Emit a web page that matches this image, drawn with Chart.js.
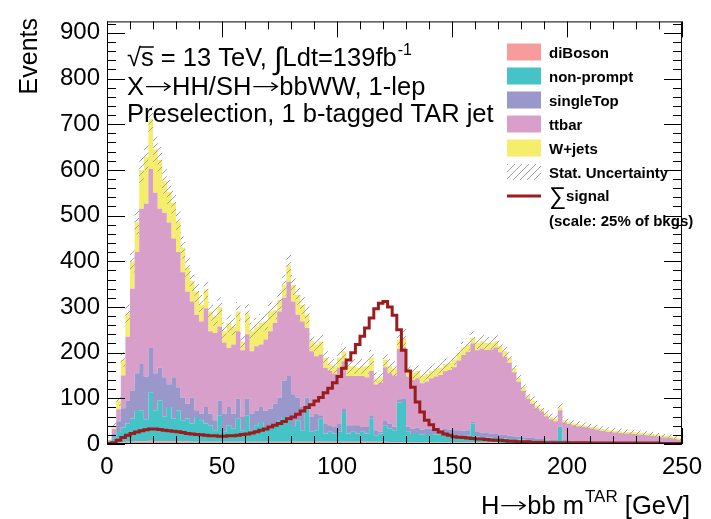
<!DOCTYPE html>
<html>
<head>
<meta charset="utf-8">
<script src="https://cdn.jsdelivr.net/npm/chart.js@4.4.0/dist/chart.umd.min.js"></script>
<style>
  html, body { margin: 0; padding: 0; background: #fff; }
</style>
</head>
<body>
<canvas id="histChart" width="711" height="519"></canvas>
<script>
// 2 GeV bins from 0 to 250 GeV, H->bb m^TAR
const binWidth = 2;

const diBoson = [1,2,3,4,5,5,6,6,6,7, 6,6,6,6,6,6,6,6,5,5, 5,5,5,5,5,5,5,5,5,5, 5,5,5,5,5,5,5,5,5,5,
  5,5,5,5,5,5,5,5,5,5, 5,5,5,5,5,5,5,5,5,5, 5,4,4,4,4,4,4,4,4,4, 4,4,4,4,4,4,4,4,4,4,
  4,4,4,4,4,2,2,2,2,2, 2,2,2,2,2,2,2,2,2,2, 2,2,2,2,2,2,2,2,2,2, 2,2,2,2,2,2,2,2,2,2,
  2,2,2,2,2];
const nonPrompt = [2,10,23,32,40,51,66,68,48,106, 68,89,54,75,50,68,46,50,40,54, 47,40,36,25,58,22,36,29,50,25,
  58,25,36,43,32,29,39,47,54,47, 32,47,25,72,22,25,50,18,22,18, 22,65,18,22,18,22,18,50,14,18,
  35,30,26,87,88,24,18,20,16,18, 18,17,16,17,16,14,14,13,14,41, 12,11,10,10,9,11,10,9,9,8,
  8,7,6,6,5,5,4,4,35,3, 3,2,2,2,2,2,2,2,2,2, 2,2,2,2,2,2,2,2,2,2, 2,2,2,2,2];
const singleTop = [3,10,24,42,50,61,83,101,94,97, 81,72,86,50,90,50,50,32,57,15, 14,36,25,22,32,39,40,32,44,29,
  36,36,32,33,36,43,44,50,80,97, 72,50,51,25,32,36,8,21,14,14, 17,8,18,14,18,10,14,8,11,4,
  12,11,8,7,8,10,12,12,12,12, 12,12,12,12,12,12,12,12,12,3, 10,10,10,9,9,8,8,7,6,6,
  5,5,5,4,4,3,4,3,1,4, 3,2,2,2,2,2,2,2,2,2, 2,2,2,2,2,2,2,2,2,2, 2,2,2,2,2];
const ttbar = [2,11,26,72,140,223,265,340,378,392, 395,348,360,354,304,296,274,245,210,209, 202,216,181,191,162,156,129,152,148,146,
  141,137,141,137,156,170,177,188,181,206, 203,181,187,152,144,126,133,123,119,116, 123,103,108,108,108,112,109,97,100,107,
  116,110,112,110,112,110,106,108,101,103, 110,115,119,126,130,138,153,166,172,172, 179,184,182,184,189,180,171,160,140,120,
  101,85,75,66,60,51,44,41,36,38, 36,35,33,31,30,28,26,23,21,20, 19,18,17,17,16,15,14,13,12,11,
  9,8,7,5,3];
const wjets = [2,7,19,35,50,60,65,85,102,110, 95,107,69,67,78,67,54,53,45,50, 37,41,43,36,43,25,55,39,43,20,
  46,44,43,47,39,43,28,25,28,36, 36,43,36,29,22,26,29,22,14,17, 22,22,21,21,18,21,24,29,12,12,
  17,15,15,20,20,16,16,16,16,16, 16,16,16,16,16,17,17,16,16,12, 16,16,15,14,14,13,12,11,10,9,
  8,7,7,6,6,5,5,5,6,5, 4,4,4,4,4,4,4,4,4,4, 4,4,4,4,4,4,4,4,4,4, 4,4,4,4,4];
// stat. uncertainty on total background (events)
const statUnc = [4,8,12,16,20,24,26,28,28,30, 28,28,27,26,26,25,24,23,22,22, 21,22,20,
  20,21,19,20,19,21,18,20,19,19,19,19,20,20,21,23,25,22,21,20,19,
  17,17,17,16,16,16,16,17,16,16,16,16,16,17,15,15,17,16,16, 19,19,
  12,12,12,12,12,12,12,12,12,12,12,12,13,13,14,13,13,13,13,13,12,12,12,11,11,10,
  11,10,10,9,9,8,8,10,8,7,
  7,7,7,7,6,6,6,6,6,6,6,5,5,5,5,5,5,5,5,4,4,4,4,4];
// sum of signal, scaled to 25% of bkgs
const signal = [1,3,8,14,19,23,26,29,31,33, 33,32,30,29,28,27,25,23,22,21, 20,19,18,18,17,17,18,18,19,21,
  22,24,27,30,33,37,41,45,49,55, 59,65,72,80,86,94,102,112,122,134, 148,166,184,200,218,236,254,276,296,308,
  312,300,282,250,205,160,124,92,70,52, 42,32,26,22,19,16,15,14,13,12, 11,11,10,9,8,8,7,6,6,5,
  5,5,4,4,4,3,3,3,3,3, 3,3,3,3,3,2,2,2,2,2, 2,2,2,2,2,2,2,2,2,2, 1,1,1,1,1];

const xTicks = [0, 50, 100, 150, 200, 250];
const yTicks = [0, 100, 200, 300, 400, 500, 600, 700, 800, 900];

const FONT = "'Liberation Sans', Arial, Helvetica, sans-serif";
const colors = {
  diBoson: '#f79c9c',
  nonPrompt: '#45c3c7',
  singleTop: '#9a98ca',
  ttbar: '#d79fca',
  wjets: '#f4ee6c',
  signal: '#9c1b1d'
};

const nBins = diBoson.length;
const total = diBoson.map((v, i) => v + nonPrompt[i] + singleTop[i] + ttbar[i] + wjets[i]);
const uncLo = total.map((v, i) => v - statUnc[i]);
const uncHi = total.map((v, i) => v + statUnc[i]);

function stepData(vals) {
  const d = vals.map((v, i) => ({ x: i * binWidth, y: v }));
  d.push({ x: nBins * binWidth, y: vals[nBins - 1] });
  return d;
}

// hatch for stat. uncertainty
const hatchCanvas = document.createElement('canvas');
hatchCanvas.width = 7; hatchCanvas.height = 7;
const hc = hatchCanvas.getContext('2d');
hc.strokeStyle = '#a3a3a3';
hc.lineWidth = 1;
hc.beginPath();
hc.moveTo(0, 7); hc.lineTo(7, 0);
hc.moveTo(-1, 1); hc.lineTo(1, -1);
hc.moveTo(6, 8); hc.lineTo(8, 6);
hc.stroke();
const canvas = document.getElementById('histChart');
const hatch = canvas.getContext('2d').createPattern(hatchCanvas, 'repeat');

function bkg(label, vals, color, fill) {
  return {
    label, data: stepData(vals), stepped: 'before',
    backgroundColor: color, borderColor: 'rgba(0,0,0,0)', borderWidth: 0,
    pointRadius: 0, fill, order: 0
  };
}

const datasets = [
  bkg('diBoson', diBoson, colors.diBoson, 'origin'),
  bkg('non-prompt', nonPrompt, colors.nonPrompt, 0),
  bkg('singleTop', singleTop, colors.singleTop, 1),
  bkg('ttbar', ttbar, colors.ttbar, 2),
  bkg('W+jets', wjets, colors.wjets, 3),
  { label: 'uncLo', data: stepData(uncLo), stepped: 'before', stack: 'lo', fill: false,
    borderColor: 'rgba(0,0,0,0)', borderWidth: 0, pointRadius: 0, order: -1 },
  { label: 'Stat. Uncertainty', data: stepData(uncHi), stepped: 'before', stack: 'hi', fill: 5,
    backgroundColor: hatch, borderColor: 'rgba(0,0,0,0)', borderWidth: 0, pointRadius: 0, order: -1 },
  { label: 'signal', data: stepData(signal), stepped: 'before', stack: 'sig', fill: false,
    borderColor: colors.signal, borderWidth: 3, pointRadius: 0, order: -2 }
];

// text with "->" drawn as a thin ROOT-like arrow; returns end x
function arrowText(ctx, parts, x, y, size, arrowLen) {
  ctx.font = size + 'px ' + FONT;
  let cx = x;
  parts.forEach((p, i) => {
    ctx.fillText(p, cx, y);
    cx += ctx.measureText(p).width;
    if (i < parts.length - 1) {
      const ay = y - size * 0.33;
      ctx.save();
      ctx.strokeStyle = '#000';
      ctx.lineWidth = 1.3;
      ctx.beginPath();
      ctx.moveTo(cx + 2, ay); ctx.lineTo(cx + arrowLen - 2, ay);
      ctx.moveTo(cx + arrowLen - 8, ay - 4); ctx.lineTo(cx + arrowLen - 2, ay); ctx.lineTo(cx + arrowLen - 8, ay + 4);
      ctx.stroke();
      ctx.restore();
      cx += arrowLen;
    }
  });
  return cx;
}

const decorations = {
  id: 'decorations',
  afterDraw(chart) {
    const { ctx, chartArea: a, scales } = chart;
    const xs = scales.x, ys = scales.y;
    ctx.save();
    ctx.strokeStyle = '#000';
    ctx.lineWidth = 1;
    ctx.strokeRect(a.left + 0.5, a.top + 0.5, a.right - a.left - 1, a.bottom - a.top - 1);
    ctx.beginPath();
    for (let v = 0; v <= 250; v += 10) {
      const px = Math.round(xs.getPixelForValue(v)) + 0.5;
      const len = v % 50 === 0 ? 16 : 8;
      ctx.moveTo(px, a.bottom); ctx.lineTo(px, a.bottom - len);
      ctx.moveTo(px, a.top); ctx.lineTo(px, a.top + len);
    }
    for (let v = 0; v <= 920; v += 20) {
      const py = Math.round(ys.getPixelForValue(v)) + 0.5;
      const len = v % 100 === 0 ? 18 : 9;
      ctx.moveTo(a.left, py); ctx.lineTo(a.left + len, py);
      ctx.moveTo(a.right, py); ctx.lineTo(a.right - len, py);
    }
    ctx.stroke();

    ctx.fillStyle = '#000';
    ctx.textBaseline = 'alphabetic';
    ctx.textAlign = 'left';

    // axis titles
    ctx.save();
    ctx.translate(37, 18);
    ctx.rotate(-Math.PI / 2);
    ctx.textAlign = 'right';
    ctx.font = '25px ' + FONT;
    ctx.fillText('Events', 0, 0);
    ctx.restore();

    ctx.font = '25.5px ' + FONT;
    const wH = ctx.measureText('H').width, wbb = ctx.measureText('bb m').width, w3 = ctx.measureText(' [GeV]').width;
    ctx.font = '17px ' + FONT;
    const w2 = ctx.measureText('TAR').width;
    const arrowX = 28;
    const xx = 690 - wH - arrowX - wbb - w2 - w3 - 1;
    const afterM = arrowText(ctx, ['H', 'bb m'], xx, 514, 25.5, arrowX);
    ctx.font = '17px ' + FONT;
    ctx.fillText('TAR', afterM + 1, 502);
    ctx.font = '25.5px ' + FONT;
    ctx.fillText(' [GeV]', afterM + w2 + 1, 514);

    // labels top-left
    const size = 25.5;
    ctx.font = size + 'px ' + FONT;
    const x0 = 127, y0 = 66;
    ctx.fillText('\u221A', x0, y0);
    const w = ctx.measureText('\u221A').width;
    ctx.fillText('s', x0 + w, y0);
    const sw = ctx.measureText('s').width;
    ctx.beginPath();
    ctx.lineWidth = 1.5;
    ctx.moveTo(x0 + w - 1, y0 - 19); ctx.lineTo(x0 + w + sw, y0 - 19);
    ctx.stroke();
    let cx = x0 + w + sw;
    const partA = ' = 13 TeV, ';
    ctx.fillText(partA, cx, y0);
    cx += ctx.measureText(partA).width;
    ctx.font = '31px ' + FONT;
    ctx.fillText('\u222B', cx, y0 + 3);
    cx += ctx.measureText('\u222B').width;
    ctx.font = size + 'px ' + FONT;
    const partB = 'Ldt=139fb';
    ctx.fillText(partB, cx, y0);
    cx += ctx.measureText(partB).width;
    ctx.font = '16px ' + FONT;
    ctx.fillText('-1', cx + 1, y0 - 11);
    arrowText(ctx, ['X', 'HH/SH', 'bbWW, 1-lep'], 127, 95, size, 28);
    ctx.font = size + 'px ' + FONT;
    ctx.fillText('Preselection, 1 b-tagged TAR jet', 127, 122);

    // legend
    const lx = 507, lw = 34, tx = 549;
    const entries = [
      ['diBoson', colors.diBoson, 52],
      ['non-prompt', colors.nonPrompt, 76],
      ['singleTop', colors.singleTop, 100],
      ['ttbar', colors.ttbar, 124],
      ['W+jets', colors.wjets, 148]
    ];
    ctx.font = 'bold 15px ' + FONT;
    entries.forEach(([lab, col, cy]) => {
      ctx.fillStyle = col;
      ctx.fillRect(lx, cy - 8.5, lw, 17);
      ctx.fillStyle = '#000';
      ctx.fillText(lab, tx, cy + 5.5);
    });
    ctx.fillStyle = hatch;
    ctx.fillRect(lx, 164, lw, 16);
    ctx.fillStyle = '#000';
    ctx.fillText('Stat. Uncertainty', tx, 177.5);
    ctx.strokeStyle = colors.signal;
    ctx.lineWidth = 3;
    ctx.beginPath();
    ctx.moveTo(lx, 196); ctx.lineTo(lx + lw, 196);
    ctx.stroke();
    ctx.font = '24px ' + FONT;
    ctx.fillText('\u2211', tx, 204);
    const sgw = ctx.measureText('\u2211').width;
    ctx.font = 'bold 15px ' + FONT;
    ctx.fillText('signal', tx + sgw, 201);
    ctx.fillText('(scale: 25% of bkgs)', tx, 226);
    ctx.restore();
  }
};

new Chart(canvas, {
  type: 'line',
  data: { datasets },
  options: {
    responsive: false,
    animation: false,
    devicePixelRatio: 1,
    layout: { padding: { top: 17, right: 23, left: 0, bottom: 0 } },
    plugins: { legend: { display: false }, tooltip: { enabled: false } },
    scales: {
      x: {
        type: 'linear', min: 0, max: 250,
        grid: { display: false, drawTicks: false }, border: { display: false },
        afterFit: s => { s.height = 75; },
        afterBuildTicks: s => { s.ticks = xTicks.map(v => ({ value: v })); },
        ticks: { color: '#000', font: { family: FONT, size: 24 }, padding: 9, maxRotation: 0, autoSkip: false }
      },
      y: {
        type: 'linear', min: 0, max: 925, stacked: true,
        grid: { display: false, drawTicks: false }, border: { display: false },
        afterFit: s => { s.width = 107; },
        afterBuildTicks: s => { s.ticks = yTicks.map(v => ({ value: v })); },
        ticks: { color: '#000', font: { family: FONT, size: 24 }, padding: 7 }
      }
    }
  },
  plugins: [decorations]
});
</script>
</body>
</html>
